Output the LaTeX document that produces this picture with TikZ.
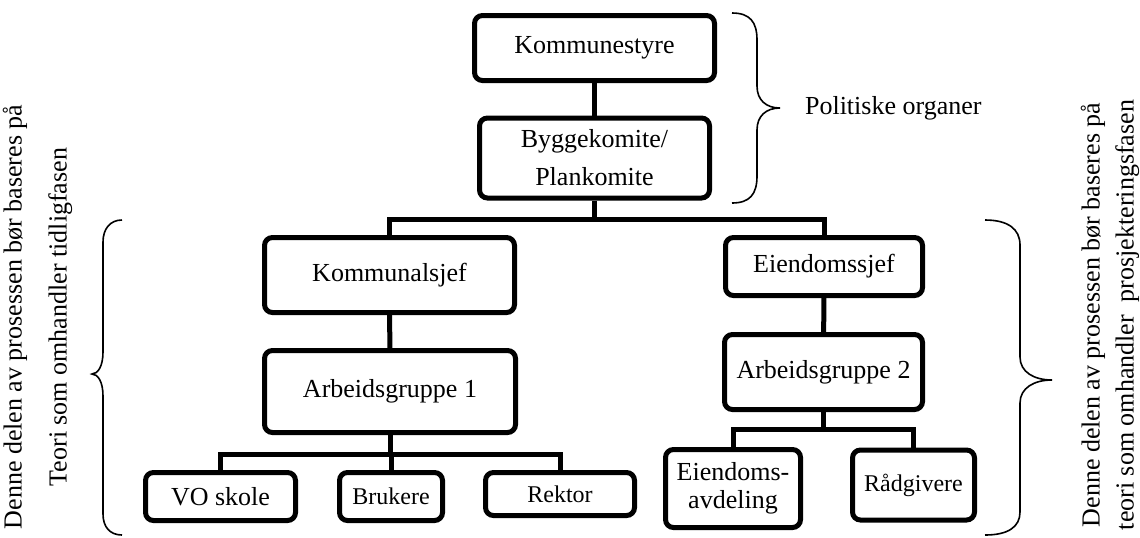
\documentclass[tikz,border=0pt]{standalone}
\usepackage{fontspec}
\setmainfont{Liberation Serif}
\usetikzlibrary{calc,positioning}
\tikzset{
  every node/.style={font=\fontsize{13}{15.6}\selectfont, text=black},
  unit/.style={draw=black, line width=2.5pt, rounded corners=4pt, fill=white, align=center, inner sep=0pt},
  smallunit/.style={unit, font=\fontsize{12}{14}\selectfont},
  link/.style={draw=black, line width=2.5pt},
  curly/.style={draw=black, line width=0.8pt},
  side/.style={rotate=90, align=center},
}

\begin{document}
\begin{tikzpicture}[x=0.5pt,y=-0.5pt]
  \useasboundingbox (0,0) rectangle (1140,537);
  % political level
  \node[unit, minimum width=120pt, minimum height=32.5pt] (kst) at (594.5,48) {Kommunestyre};
  \node[unit, minimum width=115pt, minimum height=40pt, font=\fontsize{13}{19}\selectfont] (bygg) at (594.5,158) {Byggekomite/\\Plankomite};
  % administration
  \node[unit, minimum width=125pt, minimum height=37.5pt] (kjef) at (389.5,275) {Kommunalsjef};
  \node[unit, minimum width=98.5pt, minimum height=29pt] (ejef) at (824,266.5) {Eiendomssjef};
  \node[unit, minimum width=125.5pt, minimum height=41pt] (ag1) at (390,391.5) {Arbeidsgruppe 1};
  \node[unit, minimum width=99pt, minimum height=37.5pt] (ag2) at (823.5,372) {Arbeidsgruppe 2};
  % working groups
  \node[unit, minimum width=75pt, minimum height=24pt] (vo) at (220.5,496.5) {VO skole};
  \node[smallunit, minimum width=51.5pt, minimum height=24pt] (bruk) at (391,496.5) {Brukere};
  \node[smallunit, minimum width=74.5pt, minimum height=21.5pt] (rekt) at (560,494) {Rektor};
  \node[unit, minimum width=67.5pt, minimum height=39pt, font=\fontsize{13}{14}\selectfont] (eavd) at (733,488.5) {Eiendoms-\\avdeling};
  \node[smallunit, minimum width=61pt, minimum height=35pt] (radg) at (913.5,485) {Rådgivere};
  % bus lines
  \coordinate (bus1) at (0,219);
  \coordinate (bus2) at (0,454);
  \coordinate (bus3) at (0,429);
  \draw[link] (kst) -- (bygg);
  \draw[link] (bygg.south) -- (bygg.south |- bus1);
  \draw[link] (kjef.north) -- (kjef.north |- bus1) -- (ejef.north |- bus1) -- (ejef.north);
  \draw[link] (kjef) -- (ag1);
  \draw[link] (ejef) -- (ag2);
  \draw[link] (ag1.south) -- (ag1.south |- bus2);
  \draw[link] (vo.north) -- (vo.north |- bus2) -- (rekt.north |- bus2) -- (rekt.north);
  \draw[link] (bruk.north) -- (bruk.north |- bus2);
  \draw[link] (ag2.south) -- (ag2.south |- bus3);
  \draw[link] (eavd.north) -- (eavd.north |- bus3) -- (radg.north |- bus3) -- (radg.north);
  % braces
  \draw[curly] (732,13) .. controls (750,13) and (757,22) .. (757,40) -- (757,86)
    .. controls (757,100) and (766,108) .. (780,108)
    .. controls (766,108) and (757,116) .. (757,130) -- (757,176)
    .. controls (757,194) and (750,203) .. (732,203);
  \node[anchor=west] (pol) at (798,108) {Politiske organer};
  \draw[curly] (122,220) .. controls (110,220) and (103,229) .. (103,242) -- (103,352)
    .. controls (103,366) and (98,374) .. (92,374)
    .. controls (98,374) and (103,382) .. (103,396) -- (103,514)
    .. controls (103,527) and (110,535) .. (122,535);
  \draw[curly] (985,220) .. controls (1008,220) and (1020,229) .. (1020,245) -- (1020,357)
    .. controls (1020,372) and (1034,380) .. (1052,380)
    .. controls (1034,380) and (1020,388) .. (1020,403) -- (1020,512)
    .. controls (1020,527) and (1008,535) .. (985,535);
  % side texts
  \node[side, font=\fontsize{13}{22.5}\selectfont] (left) at (37.5,317) {Denne delen av prosessen bør baseres på\\Teori som omhandler tidligfasen};
  \node[side, font=\fontsize{13}{17}\selectfont] (right) at (1110,315) {Denne delen av prosessen bør baseres på\\teori som omhandler~ prosjekteringsfasen};
\end{tikzpicture}
\end{document}
